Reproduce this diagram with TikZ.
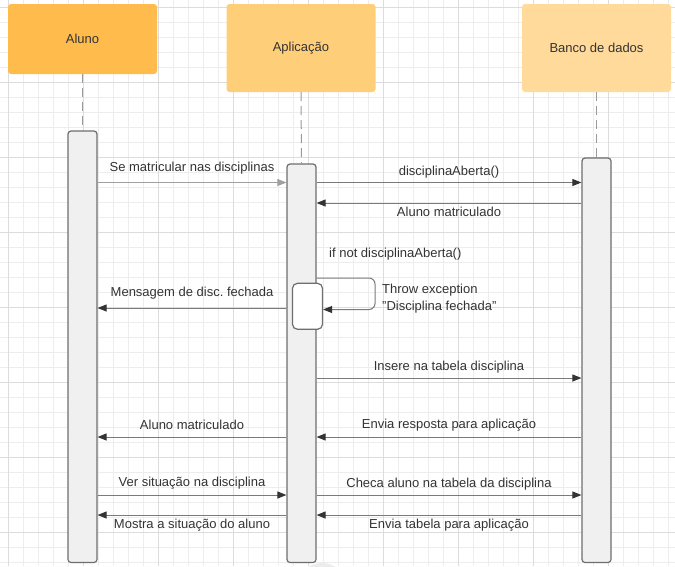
\documentclass[tikz,border=0pt]{standalone}
\usepackage{fontspec}
\setmainfont{Liberation Sans}
\usepackage{tikz}
\usetikzlibrary{arrows.meta,positioning}

\definecolor{alunofill}{HTML}{FFBC4C}
\definecolor{appfill}{HTML}{FFCE79}
\definecolor{bancofill}{HTML}{FFDA9B}
\definecolor{barfill}{HTML}{F0F0F0}
\definecolor{bargray}{HTML}{6E6E6E}
\definecolor{lifegray}{HTML}{9A9A9A}
\definecolor{msggray}{HTML}{7A7A7A}
\definecolor{headgray}{HTML}{333333}
\definecolor{softgray}{HTML}{A0A0A0}
\definecolor{txtgray}{HTML}{333333}
\definecolor{gridminor}{HTML}{EDEDED}
\definecolor{gridmajor}{HTML}{DCDCDC}
\newcommand\msgfont{\fontsize{13}{17}\selectfont}
\frenchspacing

\begin{document}
\begin{tikzpicture}[x=1pt,y=-1pt,
head/.style={rectangle, rounded corners=3pt, minimum width=149pt, text=txtgray, font=\msgfont},
bar/.style={rectangle, draw=bargray, line width=1.2pt, fill=barfill, rounded corners=3pt, minimum width=29pt, inner sep=0pt},
life/.style={draw=lifegray, line width=1pt, dash pattern=on 9pt off 5pt},
msg/.style={draw=msggray, line width=1pt, -{Triangle[length=9pt,width=7pt,color=headgray]}},
lbl/.style={text=txtgray, font=\msgfont, inner sep=0pt}]
\useasboundingbox (0,0) rectangle (675,566);
\clip (0,0) rectangle (675,566);
\fill[white] (0,0) rectangle (675,566);
% grid
\foreach \x in {8,23,...,668} \draw[gridminor, line width=0.8pt] (\x,0) -- (\x,566);
\foreach \y in {7,22,...,562} \draw[gridminor, line width=0.8pt] (0,\y) -- (675,\y);
\foreach \x in {8,83,...,608} \draw[gridmajor, line width=1pt] (\x,0) -- (\x,566);
\foreach \y in {7,82,...,532} \draw[gridmajor, line width=1pt] (0,\y) -- (675,\y);
\fill[gray!15] (322,584) ellipse (23pt and 21pt);

% participants
\node[head, fill=alunofill, minimum height=70pt] (aluno) at (82.5,39) {Aluno};
\node[head, fill=appfill, minimum height=88pt] (app) at (301,48) {Aplicação};
\node[head, fill=bancofill, minimum height=88pt] (banco) at (596.5,48) {Banco de dados};

\node[bar, minimum height=431.5pt] (alunobar) at (82.5,346.75) {};
\node[bar, minimum height=398.5pt] (appbar) at (301.5,363.25) {};
\node[bar, minimum height=404.5pt] (bancobar) at (596.5,360.25) {};
\node[bar, fill=white, rounded corners=5pt, minimum width=30pt, minimum height=46pt] (check) at (307.5,306.3) {};

\draw[life] (aluno.south) -- (alunobar.north);
\draw[life] (app.south) -- (appbar.north);
\draw[life] (banco.south) -- (bancobar.north);

% message rows
\foreach \n/\y in {m1/182.5, m2/203, m3/308, m4/378, m5/437, m6/495, m7/515}
  \coordinate (\n) at (0,\y);
\coordinate (lt) at (375,278);
\coordinate (lb) at (375,309.5);

\begin{scope}[every node/.style={lbl}]
\draw[msg, draw=softgray, -{Triangle[length=9pt,width=7pt,color=softgray]}] (alunobar.east |- m1) -- node[yshift=14.5pt] {Se matricular nas disciplinas} (appbar.west |- m1);
\draw[msg] (appbar.east |- m1) -- node[yshift=10.5pt] {disciplinaAberta()} (bancobar.west |- m1);
\draw[msg] (bancobar.west |- m2) -- node[yshift=-9pt] {Aluno matriculado} (appbar.east |- m2);
\node[anchor=west] (cond) at (329,254) {if not disciplinaAberta()};
\draw[msg, rounded corners=6pt] (appbar.east |- lt) -- (lt) -- (lb) -- (check.east |- lb);
\node[anchor=west, align=left] (throw) at (382,298.5) {Throw exception\\"Disciplina fechada"};
\draw[msg] (appbar.west |- m3) -- node[yshift=14.5pt] {Mensagem de disc. fechada} (alunobar.east |- m3);
\draw[msg] (appbar.east |- m4) -- node[yshift=11pt] {Insere na tabela disciplina} (bancobar.west |- m4);
\draw[msg] (appbar.west |- m5) -- node[yshift=12pt] {Aluno matriculado} (alunobar.east |- m5);
\draw[msg] (bancobar.west |- m5) -- node[yshift=12pt] {Envia resposta para aplicação} (appbar.east |- m5);
\draw[msg] (alunobar.east |- m6) -- node[yshift=12pt] {Ver situação na disciplina} (appbar.west |- m6);
\draw[msg] (appbar.east |- m6) -- node[yshift=11pt] {Checa aluno na tabela da disciplina} (bancobar.west |- m6);
\draw[msg] (appbar.west |- m7) -- node[yshift=-10pt] {Mostra a situação do aluno} (alunobar.east |- m7);
\draw[msg] (bancobar.west |- m7) -- node[yshift=-10pt] {Envia tabela para aplicação} (appbar.east |- m7);
\end{scope}
\end{tikzpicture}
\end{document}
